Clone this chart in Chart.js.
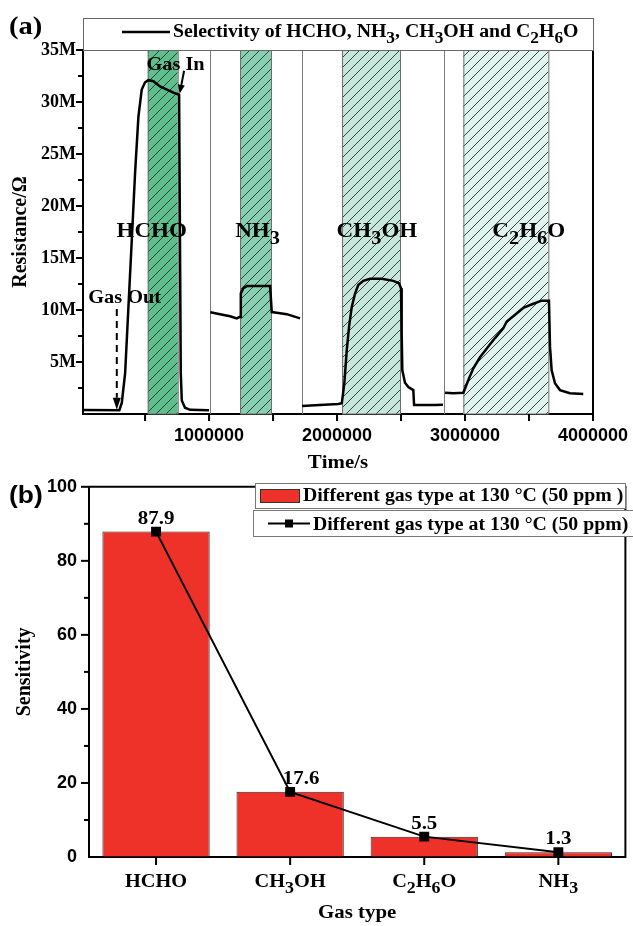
<!DOCTYPE html>
<html>
<head>
<meta charset="utf-8">
<script src="https://cdn.jsdelivr.net/npm/chart.js@4.4.1/dist/chart.umd.min.js"></script>
<style>
  html, body { margin: 0; padding: 0; background: #fff; }
  #wrap { position: relative; width: 633px; height: 926px; overflow: hidden; }
  .panel { position: absolute; left: 0; width: 633px; }
  #panelA { top: 0; height: 472px; }
  #panelB { top: 472px; height: 454px; }
</style>
</head>
<body>
<div id="wrap">
  <div class="panel" id="panelA"><canvas id="chartA"></canvas></div>
  <div class="panel" id="panelB"><canvas id="chartB"></canvas></div>
</div>
<script>
// ---- (a) resistance (MΩ) against time (s), one trace per gas window ----
const hchoTime = [20000, 299000, 318000, 344000, 370000, 396000, 422000, 448000, 474000, 500000, 526000, 565000, 617000, 670000, 721000, 766000, 779000, 787000, 812000, 852000, 1000000];
const hchoRes = [0.38, 0.36, 1.06, 3.9, 10.3, 16.7, 23.2, 28.6, 31.2, 31.9, 32.1, 32.0, 31.5, 31.2, 30.9, 30.7, 3.9, 1.3, 0.6, 0.4, 0.35];

const nh3Time = [1010000, 1086000, 1164000, 1216000, 1242000, 1248000, 1268000, 1295000, 1477000, 1490000, 1529000, 1607000, 1711000];
const nh3Res = [9.78, 9.6, 9.4, 9.2, 9.35, 11.6, 12.1, 12.3, 12.3, 9.8, 9.74, 9.6, 9.2];

const ch3ohTime = [1727000, 1828000, 2010000, 2037000, 2057000, 2076000, 2094000, 2115000, 2141000, 2166000, 2205000, 2258000, 2349000, 2440000, 2484000, 2500000, 2505000, 2510000, 2531000, 2557000, 2596000, 2602000, 2662000, 2766000, 2828000];
const ch3ohRes = [0.77, 0.83, 0.96, 1.03, 2.95, 6.15, 8.4, 10.3, 11.6, 12.4, 12.8, 13.0, 13.0, 12.8, 12.57, 12.1, 7.76, 4.2, 3.0, 2.6, 2.3, 0.87, 0.87, 0.87, 0.9];

const c2h6oTime = [2844000, 2909000, 2987000, 3026000, 3065000, 3117000, 3170000, 3234000, 3299000, 3326000, 3377000, 3455000, 3534000, 3599000, 3656000, 3664000, 3677000, 3703000, 3742000, 3820000, 3924000];
const c2h6oRes = [2.05, 1.99, 2.05, 3.27, 4.4, 5.45, 6.3, 7.3, 8.24, 8.9, 9.4, 10.2, 10.6, 10.9, 10.9, 6.5, 4.2, 2.95, 2.3, 2.0, 1.92];

// time axis ticks (labelled every 1e6, minor every 5e5)
const timeTicks = [500000, 1000000, 1500000, 2000000, 2500000, 3000000, 3500000, 4000000];

// shaded exposure windows and the thin dividers between gases
const bandStart = [521000, 1242000, 2039000, 2987000];
const bandEnd = [755000, 1484000, 2492000, 3651000];
const bandGas = ['HCHO', 'NH_3', 'CH_3OH', 'C_2H_6O'];
const bandLabelTime = [552000, 1379000, 2312000, 3498000];
const bandLabelRes = 17.0;
const separatorTime = [1010000, 1724000, 2836000];

// ---- (b) sensitivity per gas ----
const gasTypes = ['HCHO', 'CH_3OH', 'C_2H_6O', 'NH_3'];
const sensitivity = [87.9, 17.6, 5.5, 1.3];

const SERIF = 'Liberation Serif';
const SANS = 'Liberation Sans';
const SX = 1.1; // source figure text is slightly wide

// draws "CH_3OH" style text, "_" lowers the next character
function richText(ctx, str, x, y, size, family, align, sx) {
  sx = sx || SX;
  const parts = [];
  for (let i = 0; i < str.length; i++) {
    if (str[i] === '_') { parts.push({ t: str[i + 1], sub: true }); i++; }
    else parts.push({ t: str[i], sub: false });
  }
  let w = 0;
  parts.forEach(p => {
    ctx.font = `bold ${p.sub ? size * 0.88 : size}px "${family}"`;
    p.w = ctx.measureText(p.t).width;
    w += p.w;
  });
  let cx = align === 'center' ? -w / 2 : align === 'right' ? -w : 0;
  ctx.save();
  ctx.translate(x, y);
  ctx.scale(sx, 1);
  ctx.fillStyle = '#000';
  ctx.textAlign = 'left';
  ctx.textBaseline = 'alphabetic';
  parts.forEach(p => {
    ctx.font = `bold ${p.sub ? size * 0.88 : size}px "${family}"`;
    ctx.fillText(p.t, cx, p.sub ? size * 0.33 : 0);
    cx += p.w;
  });
  ctx.restore();
}

function vText(ctx, str, x, y, size, family) {
  ctx.save();
  ctx.translate(x, y);
  ctx.rotate(-Math.PI / 2);
  ctx.font = `bold ${size}px "${family}"`;
  ctx.fillStyle = '#000';
  ctx.textAlign = 'center';
  ctx.textBaseline = 'middle';
  ctx.fillText(str, 0, 0);
  ctx.restore();
}

function arrow(ctx, x0, y0, x1, y1, len, half, dash) {
  const ang = Math.atan2(y1 - y0, x1 - x0);
  const bx = x1 - len * Math.cos(ang), by = y1 - len * Math.sin(ang);
  ctx.save();
  ctx.strokeStyle = '#000';
  ctx.fillStyle = '#000';
  ctx.lineWidth = 2;
  if (dash) ctx.setLineDash(dash);
  ctx.beginPath();
  ctx.moveTo(x0, y0);
  ctx.lineTo(bx, by);
  ctx.stroke();
  ctx.setLineDash([]);
  ctx.beginPath();
  ctx.moveTo(x1, y1);
  ctx.lineTo(bx + half * Math.sin(ang), by - half * Math.cos(ang));
  ctx.lineTo(bx - half * Math.sin(ang), by + half * Math.cos(ang));
  ctx.closePath();
  ctx.fill();
  ctx.restore();
}

function line(ctx, x0, y0, x1, y1, w, color) {
  ctx.save();
  ctx.strokeStyle = color || '#000';
  ctx.lineWidth = w;
  ctx.beginPath();
  ctx.moveTo(x0, y0);
  ctx.lineTo(x1, y1);
  ctx.stroke();
  ctx.restore();
}

const hatchCache = {};
function hatch(ctx, bg) {
  if (hatchCache[bg]) return hatchCache[bg];
  const c = document.createElement('canvas');
  c.width = 10; c.height = 10;
  const g = c.getContext('2d');
  g.fillStyle = bg;
  g.fillRect(0, 0, 10, 10);
  g.strokeStyle = '#2e2e2e';
  g.lineWidth = 0.9;
  g.beginPath();
  g.moveTo(0, 10); g.lineTo(10, 0);
  g.moveTo(-5, 5); g.lineTo(5, -5);
  g.moveTo(5, 15); g.lineTo(15, 5);
  g.stroke();
  hatchCache[bg] = ctx.createPattern(c, 'repeat');
  return hatchCache[bg];
}

const bandFill = ['#5dbf8c', '#86cfb1', '#c5e7dc', '#dff3ef'];

const panelAPlugin = {
  id: 'panelA',
  beforeDatasetsDraw(chart) {
    const { ctx, chartArea: a, scales: { x } } = chart;
    ctx.save();
    bandStart.forEach((t0, i) => {
      const x0 = x.getPixelForValue(t0), x1 = x.getPixelForValue(bandEnd[i]);
      ctx.fillStyle = hatch(ctx, bandFill[i]);
      ctx.fillRect(x0, a.top, x1 - x0, a.bottom - a.top);
      ctx.strokeStyle = '#6e6e6e';
      ctx.lineWidth = 1;
      ctx.strokeRect(x0 + 0.5, a.top, x1 - x0, a.bottom - a.top);
    });
    separatorTime.forEach(t => {
      const px = Math.round(x.getPixelForValue(t)) + 0.5;
      line(ctx, px, a.top, px, a.bottom, 1, '#7a7a7a');
    });
    ctx.restore();
  },
  afterDraw(chart) {
    const { ctx, chartArea: a, scales: { x, y } } = chart;
    // frame
    line(ctx, a.left, a.top, a.right + 1, a.top, 2);
    line(ctx, a.right, a.top, a.right, a.bottom + 1, 2);
    // tick marks
    x.ticks.forEach(t => {
      const px = x.getPixelForValue(t.value);
      line(ctx, px, a.bottom, px, a.bottom + 7, 2);
    });
    y.ticks.forEach(t => {
      if (t.value > 0) {
        const py = y.getPixelForValue(t.value);
        line(ctx, a.left, py, a.left - (t.value % 5 === 0 ? 7 : 5), py, 2);
      }
    });
    // gas labels
    bandGas.forEach((g, i) => {
      richText(ctx, g, x.getPixelForValue(bandLabelTime[i]), y.getPixelForValue(bandLabelRes), 21, SERIF, 'center');
    });
    // annotations
    richText(ctx, 'Gas In', x.getPixelForValue(738000), y.getPixelForValue(33.1), 18.5, SERIF, 'center');
    arrow(ctx, x.getPixelForValue(805000), y.getPixelForValue(33.0), x.getPixelForValue(770000), y.getPixelForValue(30.8), 9, 3.5);
    richText(ctx, 'Gas Out', x.getPixelForValue(340000), y.getPixelForValue(10.67), 18.5, SERIF, 'center');
    arrow(ctx, x.getPixelForValue(279000), y.getPixelForValue(10.1), x.getPixelForValue(279000), y.getPixelForValue(0.4), 12, 4, [7, 5]);
    // legend box
    ctx.save();
    ctx.fillStyle = '#fff';
    ctx.fillRect(a.left, 18, a.right - a.left, a.top - 18);
    ctx.strokeStyle = '#666';
    ctx.lineWidth = 1;
    ctx.strokeRect(a.left + 0.5, 18.5, a.right - a.left, a.top - 18);
    ctx.restore();
    line(ctx, 122, 32, 170, 32, 2.5);
    richText(ctx, 'Selectivity of HCHO, NH_3, CH_3OH and C_2H_6O', 173, 37, 18, SERIF, 'left');
    // axis titles and panel tag
    vText(ctx, 'Resistance/Ω', 21, (a.top + a.bottom) / 2, 20, SERIF);
    richText(ctx, 'Time/s', (a.left + a.right) / 2, 468, 19, SERIF, 'center');
    richText(ctx, '(a)', 9, 34, 26, SERIF, 'left');
  }
};

const panelBPlugin = {
  id: 'panelB',
  afterDraw(chart) {
    const { ctx, chartArea: a, scales: { x, y } } = chart;
    line(ctx, a.left, a.top, a.right + 1, a.top, 2);
    line(ctx, a.right, a.top, a.right, a.bottom + 1, 2);
    y.ticks.forEach(t => {
      if (t.value > 0) {
        const py = y.getPixelForValue(t.value);
        line(ctx, a.left, py, a.left - (t.value % 20 === 0 ? 8 : 5), py, 2);
      }
    });
    gasTypes.forEach((g, i) => {
      const px = x.getPixelForValue(i);
      line(ctx, px, a.bottom, px, a.bottom + 8, 2);
      richText(ctx, g, px, a.bottom + 30, 18.5, SERIF, 'center');
    });
    // value labels over the markers
    const shift = [0, 11, 0, 0];
    sensitivity.forEach((v, i) => {
      richText(ctx, v.toFixed(1), x.getPixelForValue(i) + shift[i], y.getPixelForValue(v) - 8, 19, SERIF, 'center');
    });
    // legend boxes
    ctx.save();
    ctx.fillStyle = '#fff';
    ctx.strokeStyle = '#777';
    ctx.lineWidth = 1;
    ctx.fillRect(255, 11, 370, 25);
    ctx.strokeRect(255.5, 11.5, 370, 25);
    ctx.fillRect(253, 38, 382, 26);
    ctx.strokeRect(253.5, 38.5, 382, 26);
    ctx.fillStyle = '#ee3129';
    ctx.fillRect(260, 17, 40, 14);
    ctx.strokeStyle = '#333';
    ctx.strokeRect(260.5, 17.5, 39, 13);
    ctx.fillStyle = '#000';
    ctx.fillRect(285, 47.5, 8, 8);
    ctx.restore();
    line(ctx, 268, 51.5, 310, 51.5, 2);
    richText(ctx, 'Different gas type at 130 °C (50 ppm )', 303, 29, 18, SERIF, 'left');
    richText(ctx, 'Different gas type at 130 °C (50 ppm)', 313, 58, 18, SERIF, 'left');
    // axis titles and panel tag
    vText(ctx, 'Sensitivity', 25, (a.top + a.bottom) / 2, 20, SERIF);
    richText(ctx, 'Gas type', (a.left + a.right) / 2, 446, 19, SERIF, 'center');
    richText(ctx, '(b)', 9, 31, 24, SANS, 'left');
  }
};

Chart.defaults.color = '#000';

const segments = [
  [hchoTime, hchoRes],
  [nh3Time, nh3Res],
  [ch3ohTime, ch3ohRes],
  [c2h6oTime, c2h6oRes]
];

new Chart(document.getElementById('chartA'), {
  type: 'line',
  data: {
    datasets: segments.map(([time, res]) => ({
      data: time.map((t, i) => ({ x: t, y: res[i] })),
      borderColor: '#000',
      borderWidth: 2.5,
      pointRadius: 0,
      tension: 0,
      fill: false
    }))
  },
  options: {
    responsive: true,
    maintainAspectRatio: false,
    animation: false,
    layout: { padding: { top: 50, right: 40, left: 0, bottom: 0 } },
    plugins: { legend: { display: false }, tooltip: { enabled: false } },
    scales: {
      x: {
        type: 'linear',
        min: 15000,
        max: 4000000,
        afterFit: s => { s.height = 58; },
        afterBuildTicks: s => { s.ticks = timeTicks.map(v => ({ value: v })); },
        ticks: {
          autoSkip: false,
          maxRotation: 0,
          padding: 4,
          font: { family: SANS, weight: 'bold', size: 18 },
          callback: v => (v % 1000000 === 0 ? String(v) : '')
        },
        grid: { drawOnChartArea: false, drawTicks: true, tickLength: 7, color: 'rgba(0,0,0,0)' },
        border: { display: true, color: '#000', width: 2 }
      },
      y: {
        min: 0,
        max: 35,
        afterFit: s => { s.width = 83; },
        ticks: {
          stepSize: 2.5,
          autoSkip: false,
          padding: 0,
          font: { family: SERIF, weight: 'bold', size: 18 },
          callback: v => (v > 0 && v % 5 === 0 ? v + 'M' : '')
        },
        grid: { drawOnChartArea: false, drawTicks: true, tickLength: 7, color: 'rgba(0,0,0,0)' },
        border: { display: true, color: '#000', width: 2 }
      }
    }
  },
  plugins: [panelAPlugin]
});

new Chart(document.getElementById('chartB'), {
  type: 'bar',
  data: {
    labels: gasTypes,
    datasets: [
      {
        type: 'line',
        data: sensitivity,
        borderColor: '#000',
        borderWidth: 2,
        tension: 0,
        pointStyle: 'rect',
        pointRadius: 5.6,
        pointBackgroundColor: '#000',
        pointBorderColor: '#000',
        order: 1
      },
      {
        type: 'bar',
        data: sensitivity,
        backgroundColor: '#ee3129',
        borderColor: '#2a2a2a',
        borderWidth: 1,
        barPercentage: 0.8,
        categoryPercentage: 1.0,
        order: 2
      }
    ]
  },
  options: {
    responsive: true,
    maintainAspectRatio: false,
    animation: false,
    layout: { padding: { top: 10, right: 4, left: 0, bottom: 0 } },
    plugins: { legend: { display: false }, tooltip: { enabled: false } },
    scales: {
      x: {
        type: 'category',
        offset: true,
        afterFit: s => { s.height = 69; },
        ticks: { display: false },
        grid: { display: false },
        border: { display: true, color: '#000', width: 2 }
      },
      y: {
        min: 0,
        max: 100,
        afterFit: s => { s.width = 89; },
        ticks: {
          stepSize: 10,
          autoSkip: false,
          padding: 4,
          font: { family: SANS, weight: 'bold', size: 18 },
          callback: v => (v % 20 === 0 ? String(v) : '')
        },
        grid: { drawOnChartArea: false, drawTicks: true, tickLength: 8, color: 'rgba(0,0,0,0)' },
        border: { display: true, color: '#000', width: 2 }
      }
    }
  },
  plugins: [panelBPlugin]
});
</script>
</body>
</html>
